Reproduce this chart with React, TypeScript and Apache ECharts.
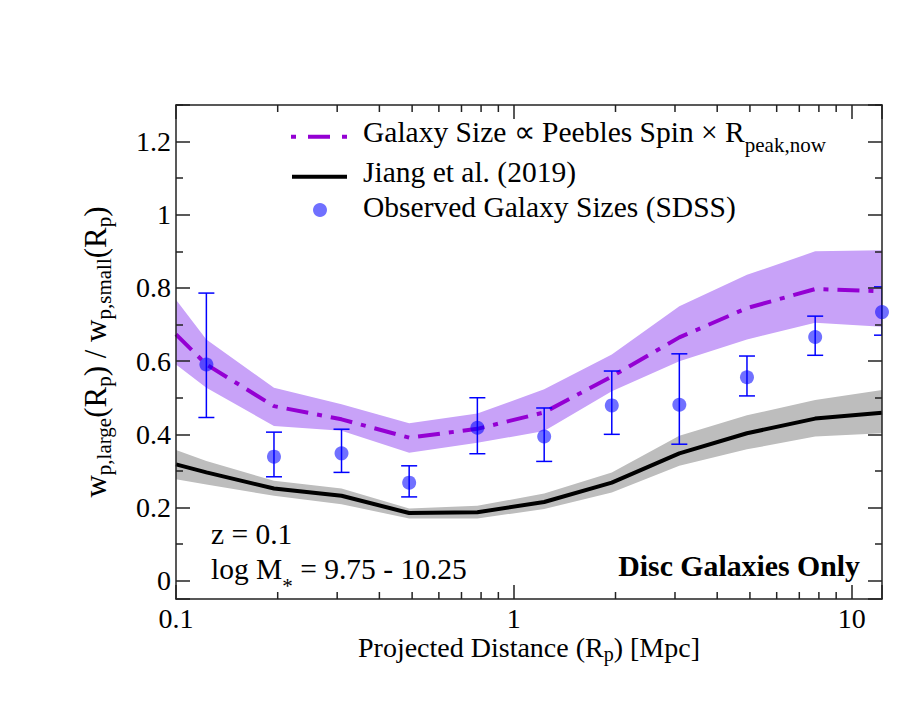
import React, { useEffect, useRef } from 'react';
import * as echarts from 'echarts';

// ---------- data ----------
const modelRp = [0.1, 0.123, 0.195, 0.309, 0.49, 0.78, 1.23, 1.95, 3.09, 4.9, 7.8, 12.3];
const peeblesMid = [0.673, 0.591, 0.477, 0.441, 0.391, 0.415, 0.46, 0.558, 0.665, 0.745, 0.797, 0.791];
const peeblesHi = [0.768, 0.659, 0.527, 0.482, 0.43, 0.457, 0.523, 0.618, 0.75, 0.836, 0.9, 0.903];
const peeblesLo = [0.591, 0.527, 0.423, 0.41, 0.35, 0.377, 0.409, 0.518, 0.6, 0.659, 0.705, 0.694];
const jiangMid = [0.318, 0.296, 0.252, 0.232, 0.185, 0.187, 0.215, 0.268, 0.348, 0.403, 0.443, 0.459];
const jiangHi = [0.357, 0.327, 0.273, 0.252, 0.197, 0.205, 0.238, 0.296, 0.396, 0.452, 0.494, 0.521];
const jiangLo = [0.277, 0.263, 0.232, 0.209, 0.17, 0.17, 0.196, 0.241, 0.314, 0.359, 0.394, 0.403];

const obsRp = [0.123, 0.195, 0.309, 0.49, 0.78, 1.23, 1.95, 3.09, 4.9, 7.8, 12.3];
const obsVal = [0.591, 0.339, 0.348, 0.268, 0.418, 0.394, 0.479, 0.481, 0.556, 0.666, 0.734];
const obsHi = [0.786, 0.406, 0.414, 0.314, 0.5, 0.472, 0.573, 0.62, 0.614, 0.723, 0.803];
const obsLo = [0.446, 0.284, 0.296, 0.229, 0.347, 0.326, 0.4, 0.373, 0.505, 0.616, 0.671];

const xMinorTicks = [0.2, 0.3, 0.4, 0.5, 0.6, 0.7, 0.8, 0.9, 2, 3, 4, 5, 6, 7, 8, 9];

const X_MIN = 0.1;
const X_MAX = 12.3;
const Y_MIN = -0.05;
const Y_MAX = 1.3;

const PEEBLES_NAME = 'Galaxy Size ∝ Peebles Spin × R_peak,now';
const JIANG_NAME = 'Jiang et al. (2019)';
const OBS_NAME = 'Observed Galaxy Sizes (SDSS)';

const FONT = "'Liberation Serif', 'Times New Roman', serif";
const AXIS_COLOR = '#222';
const PURPLE = '#9400D3';
const PURPLE_BAND = '#C8A2F8';
const GRAY_BAND = '#BDBDBD';
const DOT = 'rgba(0,0,255,0.7)';
const ERR = '#0000FF';

function logLabel(v: number): string {
  const l = Math.log10(v);
  const r = Math.round(l);
  if (Math.abs(l - r) > 1e-6) return '';
  return r < 0 ? Math.pow(10, r).toFixed(-r) : String(Math.round(Math.pow(10, r)));
}

function bandSeries(lo: number[], hi: number[], color: string) {
  return {
    type: 'custom',
    data: modelRp.map((x, i) => [x, lo[i], hi[i]]),
    encode: { x: 0, y: [1, 2] },
    clip: true,
    silent: true,
    z: 1,
    renderItem: (params: any, api: any) => {
      if (params.dataIndex !== 0) return null;
      const n = modelRp.length;
      const upper: number[][] = [];
      const lower: number[][] = [];
      for (let i = 0; i < n; i++) {
        const x = api.value(0, i);
        upper.push(api.coord([x, api.value(2, i)]));
        lower.unshift(api.coord([x, api.value(1, i)]));
      }
      return {
        type: 'polygon',
        shape: { points: upper.concat(lower) },
        style: { fill: color, stroke: null },
      };
    },
  };
}

export default function App() {
  const ref = useRef<HTMLDivElement>(null);

  useEffect(() => {
    if (!ref.current) return;
    const chart = echarts.init(ref.current, null, { renderer: 'svg' });

    const tickLine = { lineStyle: { color: AXIS_COLOR, width: 1.5 } };

    const option: any = {
      animation: false,
      backgroundColor: '#fff',
      grid: { left: 176, right: 31, top: 105, bottom: 107, containLabel: false },
      xAxis: [
        {
          type: 'log',
          logBase: 10,
          min: X_MIN,
          max: X_MAX,
          position: 'bottom',
          z: 5,
          axisLine: { show: true, onZero: false, ...tickLine },
          axisTick: { show: true, inside: true, length: 14, ...tickLine },
          minorTick: { show: false },
          splitLine: { show: false },
          axisLabel: {
            formatter: logLabel,
            fontFamily: FONT,
            fontSize: 28,
            color: '#000',
            margin: 5,
          },
          name: 'Projected Distance (R{sub|p}) [Mpc]',
          nameLocation: 'middle',
          nameGap: 32,
          nameMoveOverlap: false,
          nameTextStyle: {
            fontFamily: FONT,
            fontSize: 28,
            color: '#000',
            lineHeight: 33,
            rich: { sub: { fontFamily: FONT, fontSize: 20, lineHeight: 20, verticalAlign: 'bottom', color: '#000' } },
          },
        },
        {
          type: 'log',
          logBase: 10,
          min: X_MIN,
          max: X_MAX,
          position: 'top',
          z: 5,
          axisLine: { show: true, onZero: false, ...tickLine },
          axisTick: { show: true, inside: true, length: 14, ...tickLine },
          minorTick: { show: false },
          splitLine: { show: false },
          axisLabel: { show: false },
        },
      ],
      yAxis: [
        {
          type: 'value',
          min: Y_MIN,
          max: Y_MAX,
          splitNumber: 7,
          minInterval: 0.2,
          maxInterval: 0.2,
          position: 'left',
          z: 5,
          axisLine: { show: true, onZero: false, ...tickLine },
          axisTick: { show: true, inside: true, length: 14, ...tickLine },
          minorTick: { show: true, splitNumber: 2, length: 7, ...tickLine },
          splitLine: { show: false },
          axisLabel: {
            fontFamily: FONT,
            fontSize: 28,
            color: '#000',
            margin: 5,
            showMinLabel: false,
            showMaxLabel: false,
          },
          name: 'w{sub|p,large}(R{sub|p}) / w{sub|p,small}(R{sub|p})',
          nameLocation: 'middle',
          nameGap: 62,
          nameMoveOverlap: false,
          nameTextStyle: {
            fontFamily: FONT,
            fontSize: 31,
            color: '#000',
            lineHeight: 38,
            rich: { sub: { fontFamily: FONT, fontSize: 21, lineHeight: 21, verticalAlign: 'bottom', color: '#000' } },
          },
        },
        {
          type: 'value',
          min: Y_MIN,
          max: Y_MAX,
          splitNumber: 7,
          minInterval: 0.2,
          maxInterval: 0.2,
          position: 'right',
          z: 5,
          axisLine: { show: true, onZero: false, ...tickLine },
          axisTick: { show: true, inside: true, length: 14, ...tickLine },
          minorTick: { show: true, splitNumber: 2, length: 7, ...tickLine },
          splitLine: { show: false },
          axisLabel: { show: false },
        },
      ],
      legend: [
        {
          data: [PEEBLES_NAME],
          left: 291,
          top: 108.2,
          padding: 0,
          itemWidth: 56,
          itemHeight: 4,
          icon: 'path://M0 0H5V4H0Z M17 0H39V4H17Z M51 0H56V4H51Z',
          selectedMode: false,
          formatter: () => '{g| }Galaxy Size ∝ Peebles Spin × R{sub|peak,now}',
          textStyle: {
            fontFamily: FONT,
            fontSize: 29.5,
            color: '#000',
            lineHeight: 47,
            padding: [0, 0, 10, 0],
            rich: {
              g: { width: 11, fontFamily: FONT, fontSize: 29.5 },
              sub: { fontFamily: FONT, fontSize: 21, lineHeight: 21, verticalAlign: 'bottom', color: '#000' },
            },
          },
        },
        {
          data: [JIANG_NAME],
          left: 292,
          top: 156.7,
          padding: 0,
          itemWidth: 55,
          itemHeight: 4,
          icon: 'rect',
          selectedMode: false,
          formatter: (n: string) => '{g| }' + n,
          textStyle: {
            fontFamily: FONT,
            fontSize: 29.5,
            color: '#000',
            lineHeight: 30,
            padding: [0, 0, 10, 0],
            rich: { g: { width: 11, fontFamily: FONT, fontSize: 29.5 } },
          },
        },
        {
          data: [OBS_NAME],
          left: 313,
          top: 192,
          padding: 0,
          itemWidth: 14,
          itemHeight: 14,
          icon: 'circle',
          selectedMode: false,
          formatter: (n: string) => '{g| }' + n,
          textStyle: {
            fontFamily: FONT,
            fontSize: 29.5,
            color: '#000',
            lineHeight: 30,
            padding: [0, 0, 6, 0],
            rich: { g: { width: 31, fontFamily: FONT, fontSize: 29.5 } },
          },
        },
      ],
      graphic: [
        {
          type: 'text',
          x: 211,
          y: 534,
          z: 20,
          style: {
            text: 'z = 0.1',
            fontFamily: FONT,
            fontSize: 29.5,
            fill: '#000',
            align: 'left',
            verticalAlign: 'middle',
          },
        },
        {
          type: 'text',
          x: 211,
          y: 569,
          z: 20,
          style: {
            text: 'log M{ast|*} = 9.75 - 10.25',
            fontFamily: FONT,
            fontSize: 29.5,
            lineHeight: 55,
            fill: '#000',
            align: 'left',
            verticalAlign: 'middle',
            rich: {
              ast: { fontFamily: FONT, fontSize: 21, lineHeight: 21, verticalAlign: 'bottom', fill: '#000' },
            },
          },
        },
        {
          type: 'text',
          x: 860,
          y: 565.5,
          z: 20,
          style: {
            text: 'Disc Galaxies Only',
            fontFamily: FONT,
            fontSize: 29.8,
            fontWeight: 'bold',
            fill: '#000',
            align: 'right',
            verticalAlign: 'middle',
          },
        },
      ],
      series: [
        bandSeries(jiangLo, jiangHi, GRAY_BAND),
        bandSeries(peeblesLo, peeblesHi, PURPLE_BAND),
        {
          name: JIANG_NAME,
          type: 'line',
          data: modelRp.map((x, i) => [x, jiangMid[i]]),
          symbol: 'none',
          color: '#000',
          itemStyle: { color: '#000' },
          lineStyle: { color: '#000', width: 4 },
          z: 3,
        },
        {
          name: PEEBLES_NAME,
          type: 'line',
          data: modelRp.map((x, i) => [x, peeblesMid[i]]),
          symbol: 'none',
          color: PURPLE,
          itemStyle: { color: PURPLE },
          lineStyle: { color: PURPLE, width: 4, type: [22, 9, 5, 9], cap: 'butt' },
          z: 3,
        },
        {
          type: 'custom',
          data: obsRp.map((x, i) => [x, obsVal[i], obsLo[i], obsHi[i]]),
          encode: { x: 0, y: 1 },
          clip: true,
          silent: true,
          z: 4,
          renderItem: (params: any, api: any) => {
            const x = api.value(0);
            const pLo = api.coord([x, api.value(2)]);
            const pHi = api.coord([x, api.value(3)]);
            const cap = 8;
            const st = { stroke: ERR, lineWidth: 1.5 };
            return {
              type: 'group',
              children: [
                { type: 'line', shape: { x1: pLo[0], y1: pLo[1], x2: pHi[0], y2: pHi[1] }, style: st },
                { type: 'line', shape: { x1: pHi[0] - cap, y1: pHi[1], x2: pHi[0] + cap, y2: pHi[1] }, style: st },
                { type: 'line', shape: { x1: pLo[0] - cap, y1: pLo[1], x2: pLo[0] + cap, y2: pLo[1] }, style: st },
              ],
            };
          },
        },
        {
          name: OBS_NAME,
          type: 'scatter',
          data: obsRp.map((x, i) => [x, obsVal[i]]),
          symbol: 'circle',
          symbolSize: 14,
          color: DOT,
          itemStyle: { color: DOT },
          clip: false,
          z: 6,
        },
        {
          type: 'custom',
          data: xMinorTicks.map((v) => [v, 0]),
          encode: { x: 0, y: 1 },
          silent: true,
          z: 6,
          renderItem: (params: any, api: any) => {
            const px = api.coord([api.value(0), 0])[0];
            const cs = params.coordSys;
            const st = { stroke: AXIS_COLOR, lineWidth: 1.5 };
            const bottom = cs.y + cs.height;
            return {
              type: 'group',
              children: [
                { type: 'line', shape: { x1: px, y1: bottom, x2: px, y2: bottom - 7 }, style: st },
                { type: 'line', shape: { x1: px, y1: cs.y, x2: px, y2: cs.y + 7 }, style: st },
              ],
            };
          },
        },
      ],
    };

    chart.setOption(option);
    return () => {
      chart.dispose();
    };
  }, []);

  return (
    <div
      ref={ref}
      style={{ position: 'fixed', left: 0, top: 0, width: 913, height: 706, background: '#fff' }}
    />
  );
}
